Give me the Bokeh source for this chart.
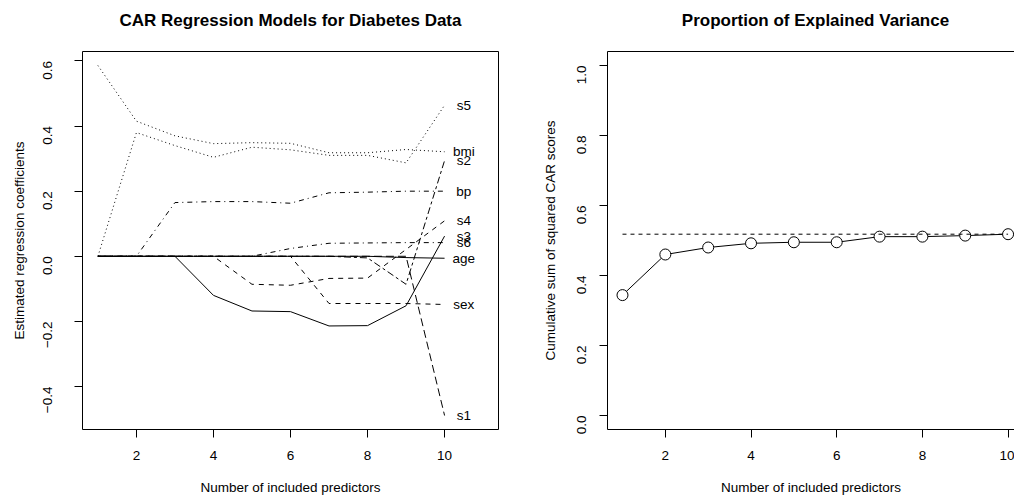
import math
from bokeh.plotting import figure
from bokeh.models import FixedTicker, LinearAxis, Range1d, ColumnDataSource
from bokeh.layouts import row, column
from bokeh.embed import file_html
from bokeh.resources import INLINE
from bokeh.core.properties import value

# ---------------- data ----------------
n_pred = [1, 2, 3, 4, 5, 6, 7, 8, 9, 10]
var_names = ["age", "sex", "bmi", "bp", "s1", "s2", "s3", "s4", "s5", "s6"]
age = [0, 0, 0, 0, 0, 0, 0, 0, -0.004, -0.006]
sex = [0, 0, 0, 0, 0, 0, -0.145, -0.145, -0.145, -0.148]
bmi = [0.586, 0.415, 0.37, 0.346, 0.349, 0.347, 0.318, 0.318, 0.328, 0.321]
bp = [0, 0, 0.165, 0.168, 0.168, 0.163, 0.195, 0.197, 0.2, 0.2]
s1 = [0, 0, 0, 0, 0, 0, 0, 0, 0, -0.489]
s2 = [0, 0, 0, 0, 0, 0, 0, -0.005, -0.086, 0.294]
s3 = [0, 0, 0, -0.12, -0.168, -0.17, -0.214, -0.213, -0.152, 0.062]
s4 = [0, 0, 0, 0, -0.086, -0.089, -0.068, -0.067, 0.021, 0.109]
s5 = [0, 0.38, 0.34, 0.304, 0.335, 0.327, 0.31, 0.31, 0.287, 0.464]
s6 = [0, 0, 0, 0, 0, 0.024, 0.04, 0.041, 0.042, 0.042]
coefs = [age, sex, bmi, bp, s1, s2, s3, s4, s5, s6]

r2_cum = [0.344, 0.460, 0.480, 0.492, 0.495, 0.495, 0.511, 0.511, 0.514, 0.518]
r2_full = 0.518

left_yticks = [-0.4, -0.2, 0.0, 0.2, 0.4, 0.6]
left_ylabels = ["\u22120.4", "\u22120.2", "0.0", "0.2", "0.4", "0.6"]
right_yticks = [0.0, 0.2, 0.4, 0.6, 0.8, 1.0]
right_ylabels = ["0.0", "0.2", "0.4", "0.6", "0.8", "1.0"]
xticks = [2, 4, 6, 8, 10]

title_left = "CAR Regression Models for Diabetes Data"
title_right = "Proportion of Explained Variance"

# R lty 1..6 cycling
dashes = ["solid", "5 5", "1 3", "1 4 5 4", "8 4", "3 3 7 3"]

FONT = "Liberation Sans"
TICK_FS = "13.5px"
LAB_FS = "13.5px"
TITLE_FS = "17px"

# layout sizes (pixels)
W1, W2 = 528, 486
TITLE_H = 51
PLOT_H = 497 - TITLE_H
L1, R1 = 82, 30
L2 = 79
FRAME2_W_FULL = 416  # right box continues past the window edge


def style_axes(p, ylab, yticks, ylabels, ylab_standoff, ytick_standoff):
    p.xaxis.ticker = FixedTicker(ticks=xticks)
    p.yaxis.ticker = FixedTicker(ticks=yticks)
    p.yaxis.major_label_overrides = {t: l for t, l in zip(yticks, ylabels)}
    for ax in (p.xaxis[0], p.yaxis[0]):
        ax.minor_tick_line_color = None
        ax.major_tick_out = 8
        ax.major_tick_in = 0
        ax.major_tick_line_color = "black"
        ax.axis_line_color = None
        ax.major_label_text_font = FONT
        ax.major_label_text_font_size = TICK_FS
        ax.major_label_text_color = "black"
        ax.axis_label_text_font = FONT
        ax.axis_label_text_font_size = LAB_FS
        ax.axis_label_text_font_style = "normal"
        ax.axis_label_text_color = "black"
    p.xaxis.axis_label = "Number of included predictors"
    p.yaxis.axis_label = ylab
    p.yaxis.major_label_orientation = math.pi / 2
    p.xaxis.major_label_standoff = 13
    p.xaxis.axis_label_standoff = 17
    p.yaxis.major_label_standoff = ytick_standoff
    p.yaxis.axis_label_standoff = ylab_standoff
    p.xgrid.visible = False
    p.ygrid.visible = False


def title_fig(width, text, center_x):
    t = figure(width=width, height=TITLE_H, output_backend="svg",
               toolbar_location=None, x_axis_type=None, y_axis_type=None,
               x_range=Range1d(0, width), y_range=Range1d(0, TITLE_H),
               min_border=0)
    t.outline_line_color = None
    t.xgrid.visible = False
    t.ygrid.visible = False
    t.text(x=[center_x], y=[TITLE_H - 20], text=[text], text_align="center",
           text_baseline="middle", text_font=value(FONT),
           text_font_size=TITLE_FS, text_font_style="bold", text_color="black")
    return t


# ---------------- left plot ----------------
p1 = figure(width=W1, height=PLOT_H, output_backend="svg", toolbar_location=None,
            x_range=Range1d(0.6, 11.4), y_range=Range1d(-0.532, 0.629),
            min_border_left=L1, min_border_right=R1, min_border_top=0,
            min_border_bottom=67)
p1.outline_line_color = "black"
p1.outline_line_width = 1
style_axes(p1, "Estimated regression coefficients", left_yticks, left_ylabels, 9, 27)

for i, (name, vals) in enumerate(zip(var_names, coefs)):
    p1.line(n_pred, vals, line_color="black", line_width=1,
            line_dash=dashes[i % 6])

lab_src = ColumnDataSource(dict(x=[10.5] * len(var_names),
                                y=[v[-1] for v in coefs], t=var_names))
p1.text(x="x", y="y", text="t", source=lab_src, text_align="center",
        text_baseline="middle", text_font=value(FONT),
        text_font_size="13.5px", text_color="black")

# ---------------- right plot ----------------
p2 = figure(width=W2, height=PLOT_H, output_backend="svg", toolbar_location=None,
            x_range=Range1d(0.65, 10.15), y_range=Range1d(-0.04, 1.04),
            min_border_left=L2, min_border_right=0, min_border_top=0,
            min_border_bottom=67)
p2.outline_line_color = None
style_axes(p2, "Cumulative sum of squared CAR scores", right_yticks, right_ylabels, 12, 18)
p2.xaxis.axis_line_color = "black"
p2.yaxis.axis_line_color = "black"
top_ax = LinearAxis(ticker=FixedTicker(ticks=[]), major_label_text_font_size="0px",
                    major_tick_line_color=None, minor_tick_line_color=None,
                    axis_line_color="black")
p2.add_layout(top_ax, "above")

p2.line(n_pred, r2_cum, line_color="black", line_width=1)
p2.scatter(n_pred, r2_cum, marker="circle", size=11, fill_color="white",
           line_color="black", line_width=1)
p2.line([n_pred[0], n_pred[-1]], [r2_full, r2_full], line_color="black",
        line_width=1, line_dash="4 4")

t1 = title_fig(W1, title_left, L1 + (W1 - L1 - R1) / 2)
t2 = title_fig(W2, title_right, L2 + FRAME2_W_FULL / 2)

layout = column(row(t1, t2), row(p1, p2))
open("out.html", "w").write(file_html(layout, INLINE))
